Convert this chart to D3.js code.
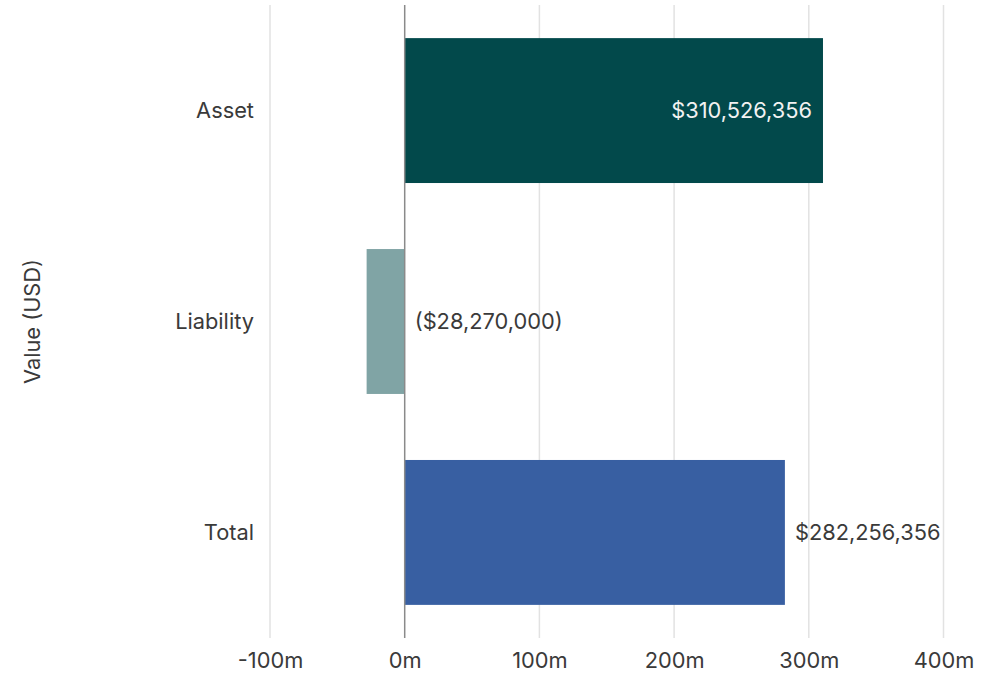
<!DOCTYPE html>
<html>
<head>
<meta charset="utf-8">
<script src="https://cdn.jsdelivr.net/npm/d3@7"></script>
<style>
  body { margin: 0; background: #fff; }
  svg text { font-family: Inter, "Noto Sans", sans-serif; }
</style>
</head>
<body>
<div id="chart"></div>
<script>
const categories = ["Asset", "Liability", "Total"];
const values = [310526356, -28270000, 282256356];
const barColors = ["#02494b", "#80a4a5", "#385fa2"];
const tickValues = [-100e6, 0, 100e6, 200e6, 300e6, 400e6];
const tickLabels = ["-100m", "0m", "100m", "200m", "300m", "400m"];

function drawChart() {
    const data = categories.map((c, i) => ({ name: c, value: values[i], color: barColors[i] }));

    const width = 993;
    const height = 678;
    const dims = { left: 270, right: 943.5, top: 5, bottom: 638 };
    const fontSize = 21.8;

    const svg = d3.select("#chart")
        .append("svg")
            .attr("width", width)
            .attr("height", height);

    const xScale = d3.scaleLinear()
        .domain([-100e6, 400e6])
        .range([dims.left, dims.right]);

    const yScale = d3.scaleBand()
        .domain(categories)
        .range([dims.top, dims.bottom])
        .paddingInner(0.313)
        .paddingOuter(0.157);

    // gridlines
    svg.append("g")
        .selectAll("line")
        .data(tickValues.filter(d => d !== 0))
        .join("line")
            .attr("x1", d => xScale(d))
            .attr("x2", d => xScale(d))
            .attr("y1", dims.top)
            .attr("y2", dims.bottom)
            .attr("stroke", "#e2e2e2")
            .attr("stroke-width", 1.5);

    // bars
    svg.append("g")
        .selectAll("rect")
        .data(data)
        .join("rect")
            .attr("x", d => xScale(Math.min(0, d.value)))
            .attr("width", d => Math.abs(xScale(d.value) - xScale(0)))
            .attr("y", d => yScale(d.name))
            .attr("height", yScale.bandwidth())
            .attr("fill", d => d.color);

    // zero line
    svg.append("line")
        .attr("x1", xScale(0))
        .attr("x2", xScale(0))
        .attr("y1", dims.top)
        .attr("y2", dims.bottom)
        .attr("stroke", "#8a8a8a")
        .attr("stroke-width", 1.5);

    // x axis labels
    const xAxis = d3.axisBottom(xScale)
        .tickValues(tickValues)
        .tickFormat((d, i) => tickLabels[i])
        .tickSize(0)
        .tickPadding(0);

    const xAxisG = svg.append("g")
        .attr("transform", `translate(0, ${dims.bottom + 8})`)
        .call(xAxis);
    xAxisG.select(".domain").remove();
    xAxisG.selectAll("text")
        .attr("font-size", fontSize)
        .attr("fill", "#3a3a3a")
        .attr("dy", "1em");

    // category labels
    svg.append("g")
        .selectAll("text")
        .data(data)
        .join("text")
            .attr("x", 254)
            .attr("y", d => yScale(d.name) + yScale.bandwidth() / 2)
            .attr("dy", "0.36em")
            .attr("text-anchor", "end")
            .attr("font-size", fontSize)
            .attr("fill", "#3a3a3a")
            .text(d => d.name);

    // value labels
    const fmt = d3.format("$,");
    svg.append("g")
        .selectAll("text")
        .data(data)
        .join("text")
            .attr("x", d => {
                if (d.value < 0) return xScale(0) + 10;
                if (d.value > 300e6) return xScale(d.value) - 11;
                return xScale(d.value) + 10;
            })
            .attr("y", d => yScale(d.name) + yScale.bandwidth() / 2)
            .attr("dy", "0.36em")
            .attr("text-anchor", d => d.value > 300e6 ? "end" : "start")
            .attr("font-size", fontSize)
            .attr("fill", d => d.value > 300e6 ? "#f2f2f2" : "#3a3a3a")
            .text(d => d.value < 0 ? "(" + fmt(-d.value) + ")" : fmt(d.value));

    // y axis title
    svg.append("text")
        .attr("transform", `translate(40, ${(dims.top + dims.bottom) / 2}) rotate(-90)`)
        .attr("text-anchor", "middle")
        .attr("font-size", fontSize)
        .attr("fill", "#3a3a3a")
        .text("Value (USD)");
}

drawChart();
</script>
</body>
</html>
